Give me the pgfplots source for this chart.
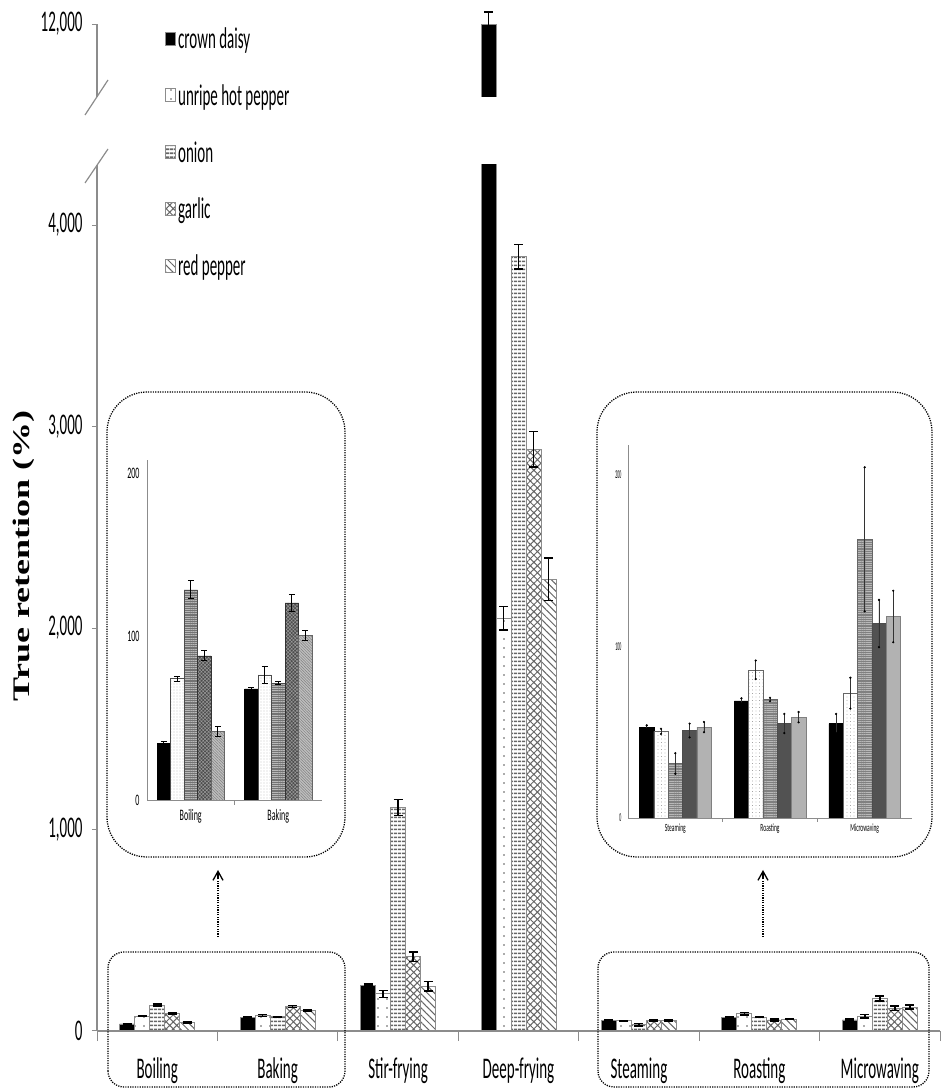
\documentclass[border=0pt]{standalone}
\usepackage{graphicx}
\usepackage{pgfplots}
\pgfplotsset{compat=1.18}
\usepackage{pgfplotstable}
\usepackage{fontspec}
\setmainfont{Carlito}[FakeStretch=0.5]
\newfontfamily\labfont{Liberation Serif}
\newfontfamily\tinyfont{Carlito}[FakeStretch=0.33]
\usetikzlibrary{patterns.meta,arrows.meta}

\definecolor{axgray}{gray}{0.55}

\pgfplotstableread{
x cd cde uh uhe on one ga gae rp rpe
0 35 1 74 1.5 129 5.5 88 3 42 3
1 68 1 77 5.5 71 1 121 5 101 3
2 228 5 184 17 1110 40 369 23 222 23
3 12000 0 2048 58 3843 60 2887 88 2242 106
4 53 1 50.5 1.5 32 6 51 4 53 3
5 68 1.5 86 5.4 69 1 55 5.6 59 3
6 55 5.6 73 9 162 12 113 12 118 10
}\maindata

\pgfplotstableread{
x cd cde uh uhe on one ga gae rp rpe
0 34.7 1 74.3 1.5 128.6 5.5 88.2 3 42 3
1 68 1 76.5 5.5 71.4 1 120.6 5 100.6 3
}\leftdata

\pgfplotstableread{
x cd cde uh uhe on one ga gae rp rpe
0 53 1 50.5 1.5 31.8 6 51 4 53 3
1 68.3 1.5 86.4 5.4 69.1 1 55.1 5.6 58.8 3
2 55.1 5.6 72.8 9 162.5 42 113.4 13.8 117.5 15
}\rightdata

\pgfplotsset{
  mainerr/.style={error bars/y dir=both, error bars/y explicit,
    error bars/error bar style={line width=1.5pt,black},
    error bars/error mark options={rotate=90,mark size=4.5pt,line width=1.5pt,black}},
  lefterr/.style={error bars/y dir=both, error bars/y explicit,
    error bars/error bar style={line width=0.9pt,black},
    error bars/error mark options={rotate=90,mark size=3pt,line width=0.9pt,black}},
  righterr/.style={error bars/y dir=both, error bars/y explicit,
    error bars/error bar style={line width=0.6pt,black!80},
    error bars/error mark=*,
    error bars/error mark options={mark size=0.9pt,black}},
  cdM/.style={fill=black, draw=axgray, line width=0.8pt},
  uhM/.style={fill=white, draw=axgray, line width=0.9pt, postaction={pattern={Dots[distance=9pt,radius=0.9pt]}, pattern color=black!65}},
  onM/.style={fill=white, draw=axgray, line width=0.8pt, postaction={pattern={Lines[angle=0,distance=4pt,line width=1.9pt]}, pattern color=black!60}},
  gaM/.style={fill=white, draw=axgray, line width=0.8pt, postaction={pattern={Hatch[angle=45,distance=5pt,line width=1pt]}, pattern color=black!60}},
  rpM/.style={fill=white, draw=axgray, line width=0.8pt, postaction={pattern={Lines[angle=-45,distance=5pt,line width=1pt]}, pattern color=black!60}},
  cdL/.style={fill=black, draw=black, line width=0.5pt},
  uhL/.style={fill=white, draw=black!70, line width=0.5pt, postaction={pattern={Dots[distance=3pt,radius=0.35pt]}, pattern color=black!60}},
  onL/.style={fill=black!55, draw=black!70, line width=0.5pt, postaction={pattern={Lines[angle=0,distance=2.2pt,line width=0.6pt]}, pattern color=black!28}},
  gaL/.style={fill=black!70, draw=black!80, line width=0.5pt, postaction={pattern={Hatch[angle=45,distance=2.5pt,line width=0.5pt]}, pattern color=black!40}},
  rpL/.style={fill=black!25, draw=black!60, line width=0.5pt, postaction={pattern={Lines[angle=-45,distance=2pt,line width=0.5pt]}, pattern color=black!50}},
  cdR/.style={fill=black, draw=black, line width=0.5pt},
  uhR/.style={fill=white, draw=black!60, line width=0.5pt, postaction={pattern={Dots[distance=3.5pt,radius=0.35pt]}, pattern color=black!55}},
  onR/.style={fill=black!50, draw=black!60, line width=0.5pt, postaction={pattern={Lines[angle=0,distance=2.2pt,line width=0.6pt]}, pattern color=black!28}},
  gaR/.style={fill=black!68, draw=black!70, line width=0.5pt},
  rpR/.style={fill=black!30, draw=black!50, line width=0.5pt},
}

\tikzset{dotline/.style={black, line width=1.3pt, dash pattern=on 1.2pt off 1.2pt}}

\begin{document}
\begin{tikzpicture}
\useasboundingbox (0pt,0pt) rectangle (940pt,1089pt);

% ---------- main lower axis (bars, y ticks, legend) ----------
\begin{axis}[
  at={(97pt,58pt)}, anchor=south west, scale only axis,
  width=843pt, height=866pt,
  xmin=-0.5, xmax=6.5, ymin=0, ymax=4298,
  ybar=0pt, bar width=15pt,
  axis x line*=bottom, axis y line*=left,
  axis line style={draw=axgray, line width=1.2pt},
  xtick=\empty,
  ytick={0,1000,2000,3000,4000},
  scaled y ticks=false,
  major tick length=5pt, tick align=outside,
  tick style={draw=axgray, line width=1pt},
  /pgf/number format/assume math mode=true,
  yticklabel style={font=\fontsize{30}{34}\selectfont, anchor=east, xshift=-6pt},
  legend style={at={(axis description cs:0.0807,1.161)}, anchor=north west,
    draw=none, fill=none, font=\fontsize{30}{34}\selectfont, row sep=30.5pt,
    inner sep=0pt},
  legend cell align=left,
  legend image code/.code={\draw[#1] (0pt,-6pt) rectangle (10pt,7pt);},
]
\addplot[cdM, mainerr] table[x=x, y=cd, y error=cde] {\maindata};
\addplot[uhM, mainerr] table[x=x, y=uh, y error=uhe] {\maindata};
\addplot[onM, mainerr] table[x=x, y=on, y error=one] {\maindata};
\addplot[gaM, mainerr] table[x=x, y=ga, y error=gae] {\maindata};
\addplot[rpM, mainerr] table[x=x, y=rp, y error=rpe] {\maindata};
\legend{crown daisy, unripe hot pepper, onion, garlic, red pepper}
\end{axis}

% ---------- main x axis labels and boundary ticks ----------
\begin{axis}[
  at={(97pt,58pt)}, anchor=south west, scale only axis,
  width=843pt, height=866pt,
  xmin=-0.5, xmax=6.5, ymin=0, ymax=4298,
  hide y axis, axis x line*=bottom,
  x axis line style={draw=axgray, line width=1.2pt},
  xtick={0,...,6},
  xticklabels={Boiling,Baking,Stir-frying,Deep-frying,Steaming,Roasting,Microwaving},
  minor xtick={-0.5,0.5,...,6.5},
  major tick length=0pt, minor tick length=10pt, tick align=outside,
  tick style={draw=axgray, line width=1pt},
  xticklabel style={font=\fontsize{30}{34}\selectfont, anchor=base, yshift=-47pt},
]
\end{axis}

% ---------- main upper axis (broken part) ----------
\begin{axis}[
  at={(97pt,992pt)}, anchor=south west, scale only axis,
  width=843pt, height=87pt,
  xmin=-0.5, xmax=6.5, ymin=11638, ymax=12070,
  ybar=0pt, bar width=15pt,
  axis x line=none, axis y line*=left,
  y axis line style={draw=none},
  xtick=\empty, ytick={12000},
  scaled y ticks=false,
  major tick length=5pt, tick align=outside,
  tick style={draw=axgray, line width=1pt},
  /pgf/number format/assume math mode=true,
  yticklabel style={font=\fontsize{30}{34}\selectfont, anchor=east, xshift=-6pt},
  after end axis/.code={\draw[axgray, line width=1.2pt] (rel axis cs:0,0) -- (axis cs:-0.5,12000);},
]
\addplot[bar shift=-30pt, cdM, mainerr] coordinates {(3,12000) +- (0,60)};
\end{axis}

% axis break marks
\draw[axgray, line width=1.2pt] (85pt,974pt) -- (108pt,1009pt);
\draw[axgray, line width=1.2pt] (85pt,906pt) -- (108pt,940pt);

% y label
\node[rotate=90] at (24pt,533pt) {\labfont\bfseries\fontsize{36}{40}\selectfont\scalebox{1}[0.66]{True retention (\%)}};

% ---------- left inset ----------
\begin{axis}[
  at={(147pt,289pt)}, anchor=south west, scale only axis,
  width=175pt, height=340pt,
  xmin=-0.5, xmax=1.5, ymin=0, ymax=208,
  ybar=0pt, bar width=13.5pt,
  axis x line*=bottom, axis y line*=left,
  axis line style={draw=axgray, line width=0.8pt},
  xtick={0,1}, xticklabels={Boiling,Baking},
  minor xtick={0.5},
  major tick length=0pt, minor tick length=5pt, tick align=outside,
  tick style={draw=axgray, line width=0.8pt},
  ytick={0,100,200},
  /pgf/number format/assume math mode=true,
  ticklabel style={font=\fontsize{16}{18}\selectfont},
  yticklabel style={xshift=-4pt},
  xticklabel style={yshift=-6pt},
]
\addplot[cdL, lefterr] table[x=x, y=cd, y error=cde] {\leftdata};
\addplot[uhL, lefterr] table[x=x, y=uh, y error=uhe] {\leftdata};
\addplot[onL, lefterr] table[x=x, y=on, y error=one] {\leftdata};
\addplot[gaL, lefterr] table[x=x, y=ga, y error=gae] {\leftdata};
\addplot[rpL, lefterr] table[x=x, y=rp, y error=rpe] {\leftdata};
\end{axis}

% ---------- right inset ----------
\begin{axis}[
  at={(628pt,271pt)}, anchor=south west, scale only axis,
  width=284pt, height=373pt,
  xmin=-0.5, xmax=2.5, ymin=0, ymax=217.5,
  ybar=0pt, bar width=14.3pt,
  axis x line*=bottom, axis y line*=left,
  axis line style={draw=axgray, line width=0.8pt},
  xtick={0,1,2}, xticklabels={Steaming,Roasting,Microwaving},
  minor xtick={0.5,1.5},
  major tick length=0pt, minor tick length=4pt, tick align=outside,
  tick style={draw=axgray, line width=0.8pt},
  ytick={0,100,200},
  /pgf/number format/assume math mode=true,
  xticklabel style={font=\fontsize{11}{13}\selectfont, yshift=-2pt},
  yticklabel style={font=\tinyfont\fontsize{12}{14}\selectfont, xshift=-3pt},
]
\addplot[cdR, righterr] table[x=x, y=cd, y error=cde] {\rightdata};
\addplot[uhR, righterr] table[x=x, y=uh, y error=uhe] {\rightdata};
\addplot[onR, righterr] table[x=x, y=on, y error=one] {\rightdata};
\addplot[gaR, righterr] table[x=x, y=ga, y error=gae] {\rightdata};
\addplot[rpR, righterr] table[x=x, y=rp, y error=rpe] {\rightdata};
\end{axis}

% ---------- dotted boxes and arrows ----------
\draw[dotline, rounded corners=40pt] (107pt,232pt) rectangle (345pt,697pt);
\draw[dotline, rounded corners=40pt] (597pt,232pt) rectangle (932pt,697pt);
\draw[dotline, rounded corners=16pt] (108pt,2pt) rectangle (345pt,137pt);
\draw[dotline, rounded corners=16pt] (598pt,2pt) rectangle (929pt,137pt);
\draw[dotline] (218pt,152pt) -- (218pt,217pt);
\draw[black, line width=1.3pt, -{Straight Barb[length=9pt,width=10pt]}] (218pt,210pt) -- (218pt,219pt);
\draw[dotline] (763pt,152pt) -- (763pt,217pt);
\draw[black, line width=1.3pt, -{Straight Barb[length=9pt,width=10pt]}] (763pt,210pt) -- (763pt,219pt);
\end{tikzpicture}
\end{document}
